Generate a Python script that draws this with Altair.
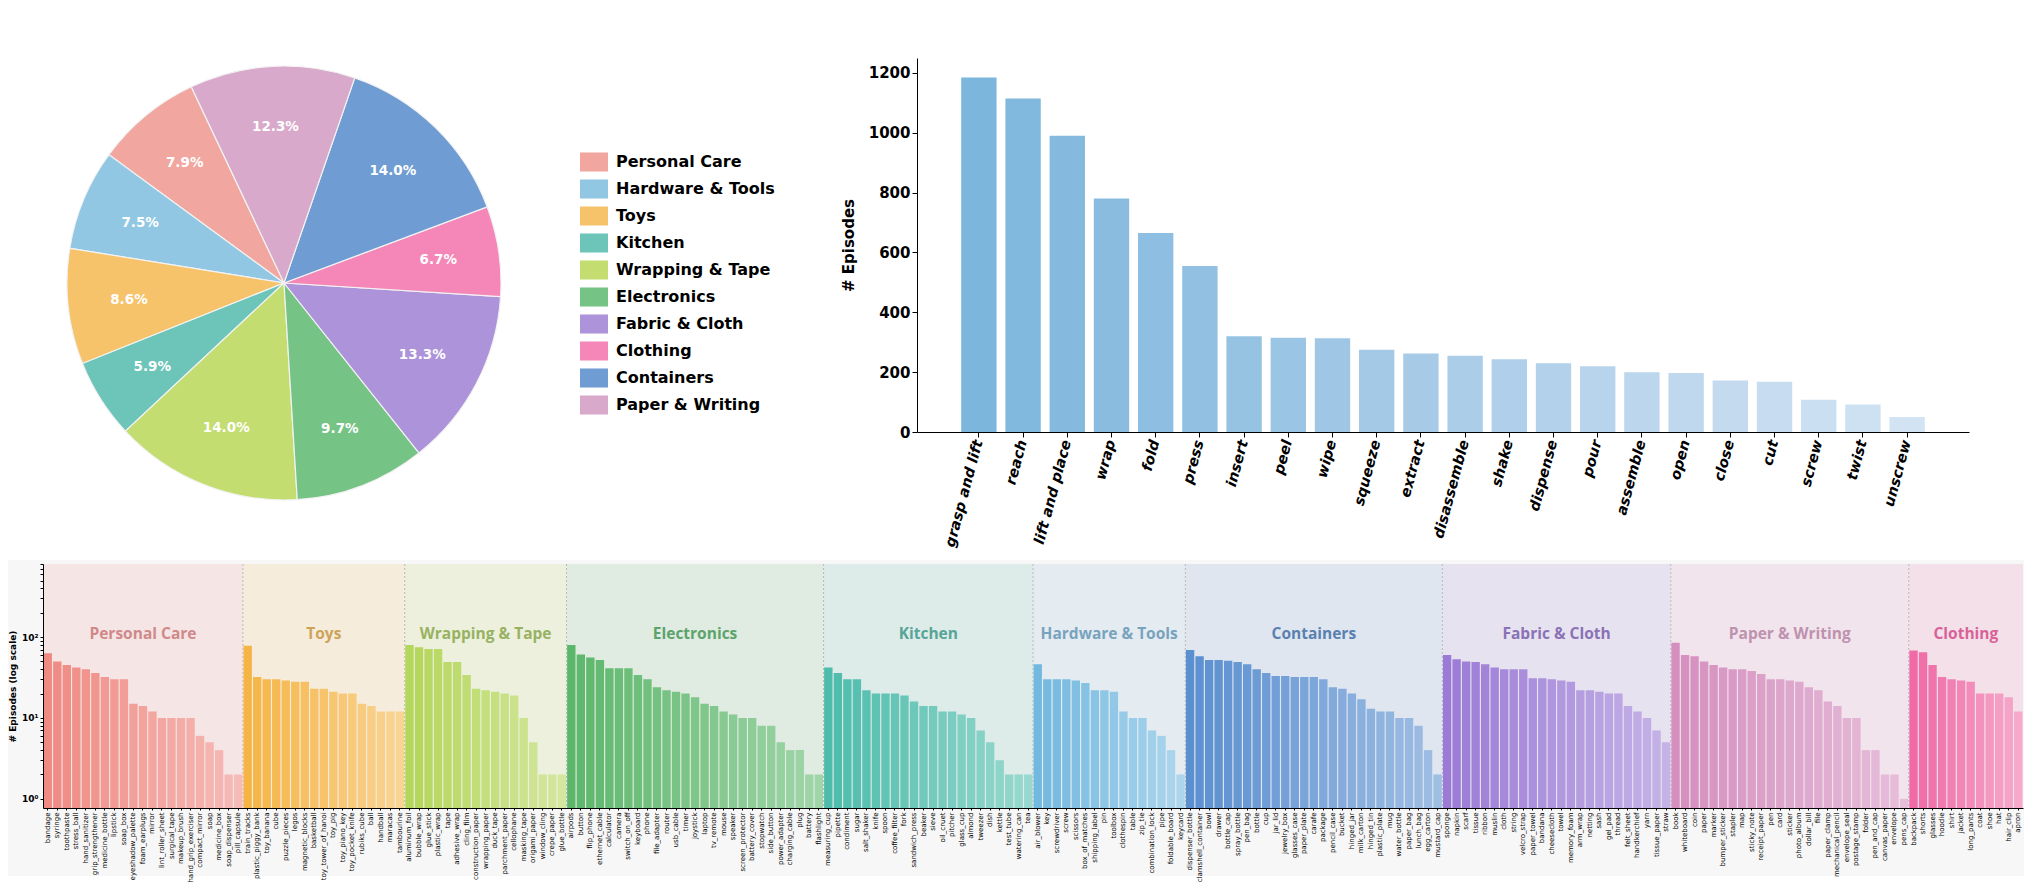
import math
import altair as alt
import pandas as pd

# ---------------- data ----------------
pie_categories = ["Personal Care", "Hardware & Tools", "Toys", "Kitchen", "Wrapping & Tape",
                  "Electronics", "Fabric & Cloth", "Clothing", "Containers", "Paper & Writing"]
pie_percent = [7.9, 7.5, 8.6, 5.9, 14.0, 9.7, 13.3, 6.7, 14.0, 12.3]

actions = ["grasp and lift", "reach", "lift and place", "wrap", "fold", "press", "insert", "peel",
           "wipe", "squeeze", "extract", "disassemble", "shake", "dispense", "pour", "assemble",
           "open", "close", "cut", "screw", "twist", "unscrew"]
action_episodes = [1185, 1115, 990, 780, 665, 555, 320, 315, 313, 275, 262, 255, 243, 230, 220,
                   200, 197, 172, 168, 108, 92, 50]

object_categories = ["Personal Care", "Toys", "Wrapping & Tape", "Electronics", "Kitchen",
                     "Hardware & Tools", "Containers", "Fabric & Cloth", "Paper & Writing", "Clothing"]

personal_care_objects = ["bandage", "syringe", "toothpaste", "stress_ball", "hand_sanitizer",
                         "grip_strengthener", "medicine_bottle", "lipstick", "soap_box",
                         "eyeshadow_palette", "foam_earplugs", "mirror", "lint_roller_sheet",
                         "surgical_tape", "makeup_brush", "hand_grip_exerciser", "compact_mirror",
                         "soap", "medicine_box", "soap_dispenser", "pill_capsule"]
personal_care_counts = [63, 50, 45, 42, 40, 36, 32, 30, 30, 15, 14, 12, 10, 10, 10, 10, 6, 5, 4, 2, 2]

toys_objects = ["train_tracks", "plastic_piggy_bank", "toy_banana", "cube", "puzzle_pieces", "legos",
                "magnetic_blocks", "basketball", "toy_tower_of_hanoi", "toy_pig", "toy_piano_key",
                "toy_pocket_knife", "rubiks_cube", "ball", "handball", "maracas", "tambourine"]
toys_counts = [78, 32, 30, 30, 29, 28, 28, 23, 23, 21, 20, 20, 15, 14, 12, 12, 12]

wrapping_objects = ["aluminum_foil", "bubble_wrap", "glue_stick", "plastic_wrap", "tape",
                    "adhesive_wrap", "cling_film", "construction_paper", "wrapping_paper",
                    "duck_tape", "parchment_paper", "cellophane", "masking_tape", "origami_paper",
                    "window_cling", "crepe_paper", "glue_bottle"]
wrapping_counts = [80, 75, 71, 71, 49, 49, 34, 23, 22, 21, 20, 19, 10, 5, 2, 2, 2]

electronics_objects = ["airpods", "button", "flip_phone", "ethernet_cable", "calculator", "camera",
                       "switch_on_off", "keyboard", "phone", "file_adapter", "router", "usb_cable",
                       "timer", "joystick", "laptop", "tv_remote", "mouse", "speaker",
                       "screen_protector", "battery_cover", "stopwatch", "side_button",
                       "power_adapter", "charging_cable", "plug", "battery", "flashlight"]
electronics_counts = [80, 61, 56, 52, 41, 41, 41, 34, 30, 24, 22, 21, 20, 18, 15, 14, 12, 11, 10,
                      10, 8, 8, 5, 4, 4, 2, 2]

kitchen_objects = ["measuring_cup", "pipette", "condiment", "sugar", "salt_shaker", "knife", "spoon",
                   "coffee_filter", "fork", "sandwich_press", "beaker", "sieve", "oil_cruet",
                   "pitcher", "glass_cup", "almond", "tweezer", "dish", "kettle", "test_tube",
                   "watering_can", "tea"]
kitchen_counts = [42, 36, 30, 30, 22, 20, 20, 20, 19, 16, 14, 14, 12, 12, 11, 10, 7, 5, 3, 2, 2, 2]

hardware_objects = ["air_blower", "key", "screwdriver", "screw", "scissors", "box_of_matches",
                    "shipping_label", "pin", "toolbox", "clothespin", "table", "zip_tie",
                    "combination_lock", "pipe", "foldable_board", "keycard"]
hardware_counts = [46, 30, 30, 30, 29, 27, 22, 22, 21, 12, 10, 10, 7, 6, 4, 2]

containers_objects = ["dispenser_bottle", "clamshell_container", "bowl", "drawer", "bottle_cap",
                      "spray_bottle", "pen_bag", "bottle", "cup", "jar_lid", "jewelry_box",
                      "glasses_case", "paper_plate", "carafe", "package", "pencil_case", "bucket",
                      "hinged_jar", "milk_carton", "hinged_tin", "plastic_plate", "mug",
                      "water_bottle", "paper_bag", "lunch_bag", "egg_carton", "mustard_cap"]
containers_counts = [69, 58, 52, 52, 51, 49, 46, 40, 36, 33, 33, 32, 32, 32, 30, 24, 23, 20, 17,
                     13, 12, 12, 10, 10, 8, 4, 2]

fabric_objects = ["sponge", "napkin", "scarf", "tissue", "ribbon", "muslin", "cloth", "string",
                  "velcro_strap", "paper_towel", "bandana", "cheesecloth", "towel", "memory_foam",
                  "arm_wrap", "netting", "sash", "gel_pad", "thread", "felt_sheet", "handkerchief",
                  "yarn", "tissue_paper", "straw"]
fabric_counts = [60, 53, 50, 49, 46, 42, 40, 40, 40, 31, 31, 30, 29, 28, 22, 22, 21, 20, 20, 14,
                 12, 10, 7, 5]

paper_objects = ["book", "whiteboard", "coin", "paper", "marker", "bumper_sticker", "stapler", "map",
                 "sticky_note", "receipt_paper", "pen", "card", "sticker", "photo_album",
                 "dollar_bill", "file", "paper_clamp", "mechanical_pencil", "envelope_seal",
                 "postage_stamp", "folder", "pen_and_cap", "canvas_paper", "envelope", "pens_cap"]
paper_counts = [85, 60, 58, 50, 45, 42, 40, 40, 38, 35, 30, 30, 29, 28, 24, 22, 16, 14, 10, 10, 4,
                4, 2, 2, 1]

clothing_objects = ["backpack", "shorts", "glasses", "hoodie", "shirt", "jacket", "long_pants",
                    "coat", "shoe", "hat", "hair_clip", "apron"]
clothing_counts = [68, 65, 45, 32, 30, 29, 28, 20, 20, 20, 18, 12]

objects_by_category = [personal_care_objects, toys_objects, wrapping_objects, electronics_objects,
                       kitchen_objects, hardware_objects, containers_objects, fabric_objects,
                       paper_objects, clothing_objects]
counts_by_category = [personal_care_counts, toys_counts, wrapping_counts, electronics_counts,
                      kitchen_counts, hardware_counts, containers_counts, fabric_counts,
                      paper_counts, clothing_counts]

# ---------------- styles ----------------
pie_colors = ["#f1a6a0", "#92c7e4", "#f6c36b", "#6dc4b9", "#c3dd70",
              "#76c386", "#ad93d9", "#f487b8", "#6f9cd2", "#d8a9cb"]
bar_base = ["#ef8a82", "#f5b445", "#b4d65a", "#5cb76b", "#4dbcab",
            "#72b8df", "#5a8fd0", "#9b7bd6", "#d58fbf", "#ef6aa6"]
band_fill = ["#f5e5e5", "#f5ecdc", "#ecf0dc", "#e0ece1", "#ddebe9",
             "#e4ecf2", "#dfe6ef", "#e7e2ef", "#f1e4ec", "#f4e0e9"]
label_color = ["#cc8080", "#c99c4c", "#8fac55", "#4f9c60", "#4a9e90",
               "#6e9bb8", "#4c76aa", "#7f66b0", "#b98aa9", "#d65590"]
FONT = "DejaVu Sans"


def mix_white(hexcol, t):
    h = hexcol.lstrip("#")
    r, g, b = (int(h[i:i + 2], 16) for i in (0, 2, 4))
    r = round(r + (255 - r) * t)
    g = round(g + (255 - g) * t)
    b = round(b + (255 - b) * t)
    return f"#{r:02x}{g:02x}{b:02x}"


# ---------------- pie ----------------
pie_df = pd.DataFrame({"category": pie_categories, "pct": pie_percent,
                       "idx": list(range(len(pie_categories)))})
pie_df["label"] = [f"{v:.1f}%" for v in pie_percent]
start = 2 * math.pi - math.radians(25.3)

PIE_W, PIE_H = 482, 502
pie_base = alt.Chart(pie_df).encode(
    theta=alt.Theta("pct:Q", stack=True,
                    scale=alt.Scale(range=[start, start + 2 * math.pi])),
    order=alt.Order("idx:Q", sort="descending"),
    x=alt.value(241),
    y=alt.value(225),
)
arcs = pie_base.mark_arc(outerRadius=217, stroke="#f2f2f2", strokeWidth=1.2).encode(
    color=alt.Color("category:N",
                    scale=alt.Scale(domain=pie_categories, range=pie_colors),
                    legend=alt.Legend(title=None, orient="none", legendX=537, legendY=90,
                                      symbolType="M-1,-0.68L1,-0.68L1,0.68L-1,0.68Z",
                                      symbolSize=784, symbolStrokeWidth=0,
                                      labelFont=FONT, labelFontWeight="bold", labelFontSize=16,
                                      labelColor="black", rowPadding=3, labelOffset=8,
                                      padding=0))
)
pie_text = pie_base.mark_text(radius=156, font=FONT, fontWeight="bold", fontSize=13.5,
                              color="white").encode(text="label:N")
pie = alt.layer(arcs, pie_text).properties(width=PIE_W, height=PIE_H)

# ---------------- action bar chart ----------------
act_df = pd.DataFrame({"action": actions, "episodes": action_episodes,
                       "rank": list(range(len(actions)))})
act_bars = alt.Chart(act_df).mark_bar().encode(
    x=alt.X("action:N", sort=None,
            scale=alt.Scale(paddingInner=0.2, paddingOuter=1),
            axis=alt.Axis(title=None, labelAngle=285, labelFont=FONT, labelFontWeight="bold",
                          labelFontStyle="italic", labelFontSize=14.5, labelColor="black",
                          tickColor="black", tickSize=5, domainColor="black", labelPadding=3)),
    y=alt.Y("episodes:Q", scale=alt.Scale(domain=[0, 1250], nice=False),
            axis=alt.Axis(values=[0, 200, 400, 600, 800, 1000, 1200], format="d",
                          title="# Episodes",
                          titleFont=FONT, titleFontWeight="bold", titleFontSize=15,
                          titleColor="black", titlePadding=12, labelFont=FONT,
                          labelFontWeight="bold", labelFontSize=15, labelColor="black",
                          tickColor="black", tickSize=5, domainColor="black", grid=False)),
    color=alt.Color("rank:Q", scale=alt.Scale(range=["#7cb6dc", "#d2e3f3"]), legend=None),
).properties(width=1052, height=374)

top = alt.hconcat(pie, act_bars, spacing=392, bounds="flush").resolve_scale(color="independent")

# ---------------- objects bottom chart ----------------
rows = []
band_rows = []
pos = 0
for ci, cat in enumerate(object_categories):
    objs = objects_by_category[ci]
    cnts = counts_by_category[ci]
    n = len(objs)
    for i, (o, c) in enumerate(zip(objs, cnts)):
        t = 0.42 * i / max(1, n - 1)
        rows.append({"obj": o, "count": c, "category": cat,
                     "color": mix_white(bar_base[ci], t)})
    band_rows.append({"category": cat, "start": pos, "end": pos + n, "mid": pos + n / 2,
                      "fill": band_fill[ci], "tcolor": label_color[ci]})
    pos += n
N = pos
obj_df = pd.DataFrame(rows)
band_df = pd.DataFrame(band_rows)
sep_df = band_df[band_df["start"] > 0]

W, H = 1980, 244
ymin, ymax = 0.77, 800
ticks = [1, 2, 3, 4, 5, 6, 7, 8, 9, 10, 20, 30, 40, 50, 60, 70, 80, 90, 100, 200, 300, 400,
         500, 600, 700, 800]

bg = alt.Chart(pd.DataFrame({"a": [0]})).mark_rect(fill="#f7f7f7").encode(
    x=alt.value(-35), x2=alt.value(W + 1), y=alt.value(-4), y2=alt.value(H + 68))

bands = alt.Chart(band_df).mark_rect().encode(
    x=alt.X("start:Q", scale=alt.Scale(domain=[0, N], nice=False, zero=False), axis=None),
    x2="end:Q",
    y=alt.value(0), y2=alt.value(H),
    color=alt.Color("fill:N", scale=None),
)

seps = alt.Chart(sep_df).mark_rule(color="#b8b8b8", strokeDash=[2, 2], strokeWidth=1).encode(
    x=alt.X("start:Q", scale=alt.Scale(domain=[0, N], nice=False, zero=False), axis=None),
    y=alt.value(0), y2=alt.value(H),
)

obj_bars = alt.Chart(obj_df).mark_bar().encode(
    x=alt.X("obj:N", sort=None, scale=alt.Scale(paddingInner=0.12, paddingOuter=0.06),
            axis=alt.Axis(title=None, labelAngle=270, labelFont=FONT, labelFontSize=7,
                          labelColor="#000", tickColor="black", tickSize=2, domainColor="black",
                          labelPadding=2, zindex=1)),
    y=alt.Y("count:Q", scale=alt.Scale(type="log", domain=[ymin, ymax], nice=False),
            axis=alt.Axis(values=ticks,
                          labelExpr="datum.value == 1 ? '10⁰' : datum.value == 10 ? '10¹' : datum.value == 100 ? '10²' : ''",
                          title="# Episodes (log scale)", titleFont=FONT, titleFontSize=9,
                          titleFontWeight="bold", titleColor="black", titlePadding=4,
                          labelFont=FONT, labelFontSize=9, labelFontWeight="bold",
                          labelColor="black", tickColor="black", tickSize=3,
                          domainColor="black", grid=False, labelOverlap=False, zindex=1)),
    y2=alt.datum(ymin),
    color=alt.Color("color:N", scale=None),
)

cat_text = alt.Chart(band_df).mark_text(font="Open Sans", fontWeight="bold", fontSize=15.5,
                                        opacity=0.9).encode(
    x=alt.X("mid:Q", scale=alt.Scale(domain=[0, N], nice=False, zero=False), axis=None),
    y=alt.value(70),
    text="category:N",
    color=alt.Color("tcolor:N", scale=None),
)

bottom = alt.layer(bg, bands, seps, obj_bars, cat_text).resolve_scale(
    x="independent").properties(width=W, height=H)

chart = alt.vconcat(top, bottom, spacing=0).resolve_scale(
    color="independent"
).properties(
    padding={"left": 0, "top": 50, "right": 0, "bottom": 0}
).configure(font=FONT).configure_view(stroke=None)

chart.save("out.html", embed_options={"renderer": "svg", "actions": False})
